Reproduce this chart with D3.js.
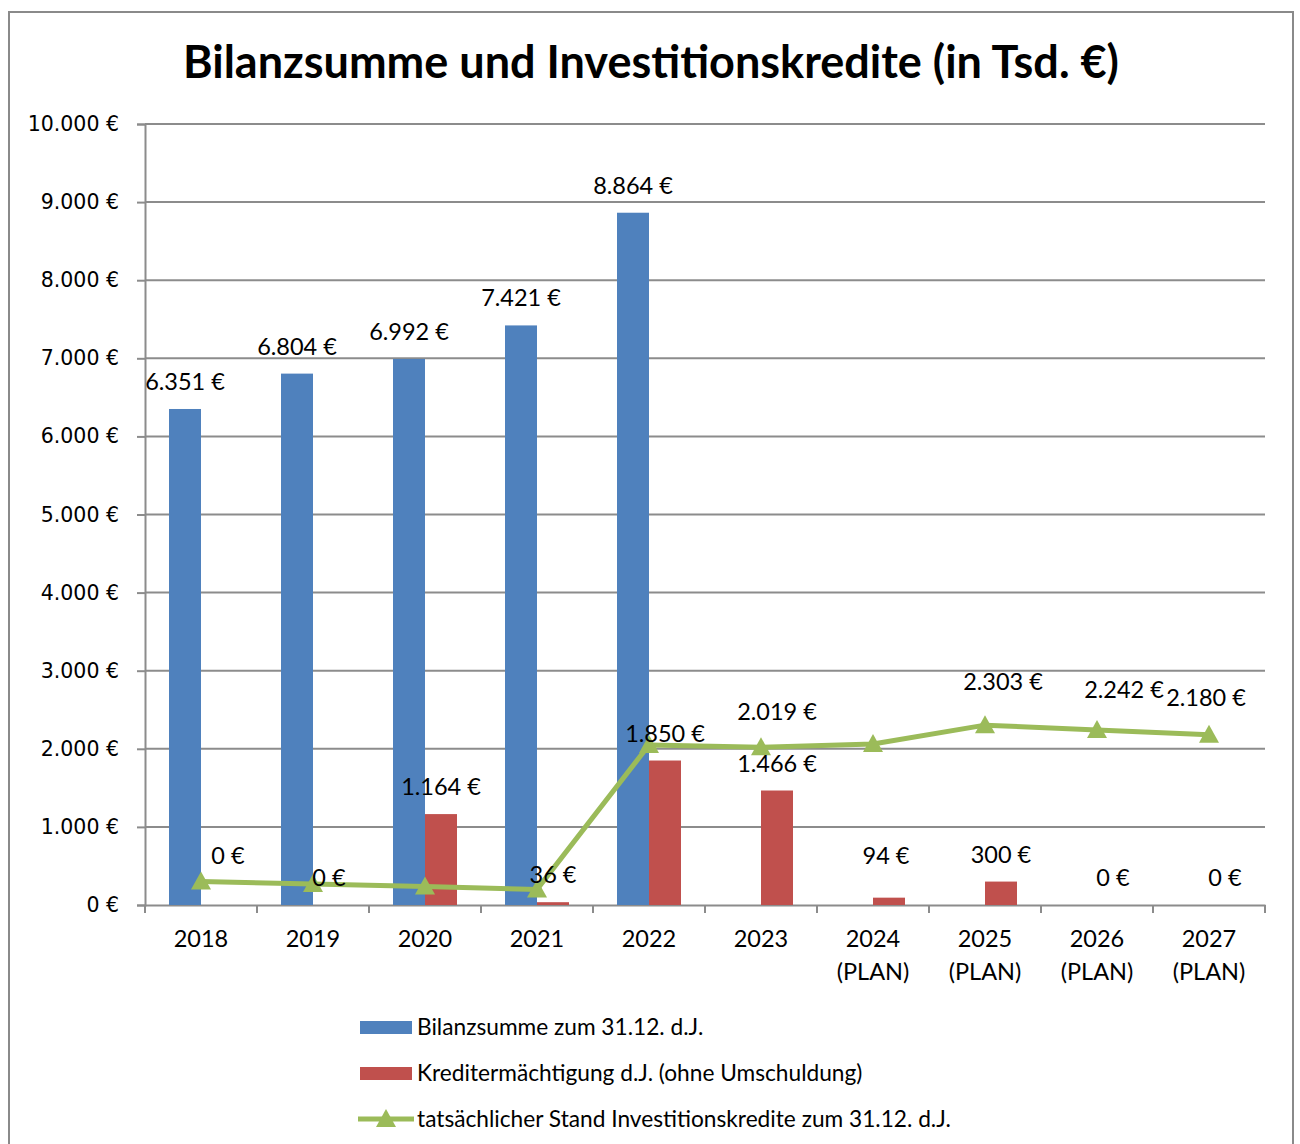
<!DOCTYPE html>
<html lang="de">
<head>
<meta charset="UTF-8">
<title>Bilanzsumme und Investitionskredite</title>
<style>
  body { margin: 0; background: #fff; font-family: Lato, "Noto Sans", sans-serif; }
  svg { display: block; }
</style>
</head>
<body>
<svg id="chart" width="1300" height="1144"></svg>
<script src="https://d3js.org/d3.v7.min.js"></script>
<script>
const years = ["2018", "2019", "2020", "2021", "2022", "2023", "2024 (PLAN)", "2025 (PLAN)", "2026 (PLAN)", "2027 (PLAN)"];
const bilanzsumme = [6351, 6804, 6992, 7421, 8864, null, null, null, null, null];
const kredit = [0, 0, 1164, 36, 1850, 1466, 94, 300, 0, 0];
const stand = [300, 268, 236, 200, 2049, 2019, 2061, 2303, 2242, 2180];
const standLabels = [null, null, null, null, null, 2019, null, 2303, 2242, 2180];
const yTicks = [0, 1000, 2000, 3000, 4000, 5000, 6000, 7000, 8000, 9000, 10000];
const legendItems = ["Bilanzsumme zum 31.12. d.J.", "Kreditermächtigung d.J. (ohne Umschuldung)", "tatsächlicher Stand Investitionskredite zum 31.12. d.J."];

const blue = "#4F81BD", red = "#C0504D", green = "#9BBB59", grid = "#8c8c8c";
const fmt = v => d3.format(",")(v).replace(/,/g, ".") + " €";

const svg = d3.select("#chart");
const margin = { top: 124, left: 145, right: 35, bottom: 239 };
const W = 1300, H = 1144;
const innerW = W - margin.left - margin.right;
const innerH = H - margin.top - margin.bottom;

// outer frame
svg.append("rect").attr("x", 9).attr("y", 12).attr("width", 1284).attr("height", 1150)
  .attr("fill", "none").attr("stroke", "#8a8a8a").attr("stroke-width", 2);

svg.append("text").attr("x", 651).attr("y", 78).attr("text-anchor", "middle")
  .attr("font-size", 45).attr("font-weight", "bold").text("Bilanzsumme und Investitionskredite (in Tsd. €)");

const g = svg.append("g").attr("transform", `translate(${margin.left},${margin.top})`);

const x = d3.scaleBand().domain(years).range([0, innerW]);
const y = d3.scaleLinear().domain([0, 10000]).range([innerH, 0]);
const barW = 32;

// gridlines
g.append("g").selectAll("line").data(yTicks.slice(1)).join("line")
  .attr("x1", 0).attr("x2", innerW).attr("y1", d => y(d)).attr("y2", d => y(d))
  .attr("stroke", grid).attr("stroke-width", 2);

// y axis
const yAxis = g.append("g").call(d3.axisLeft(y).tickValues(yTicks).tickSize(8).tickPadding(18).tickFormat(fmt));
yAxis.select(".domain").attr("stroke", grid).attr("stroke-width", 2);
yAxis.selectAll(".tick line").attr("stroke", grid).attr("stroke-width", 2);
yAxis.selectAll("text").attr("font-family", "DejaVu Sans, Verdana, sans-serif").attr("font-size", 20.5).attr("fill", "#000");

// x axis
const xAxis = g.append("g").attr("transform", `translate(0,${innerH})`)
  .call(d3.axisBottom(x).tickSize(0).tickFormat(""));
xAxis.select(".domain").attr("stroke", grid).attr("stroke-width", 2);
g.append("g").selectAll("line").data(d3.range(years.length + 1)).join("line")
  .attr("x1", i => i * x.step()).attr("x2", i => i * x.step())
  .attr("y1", innerH).attr("y2", innerH + 8).attr("stroke", grid).attr("stroke-width", 2);

const xl = g.append("g").selectAll("text").data(years).join("text")
  .attr("x", d => x(d) + x.bandwidth() / 2).attr("y", innerH + 42)
  .attr("text-anchor", "middle").attr("font-size", 23.5);
xl.each(function (d) {
  const parts = d.split(" ");
  d3.select(this).selectAll("tspan").data(parts).join("tspan")
    .attr("x", x(d) + x.bandwidth() / 2).attr("dy", (p, i) => i ? 33 : 0).text(p => p);
});

const cx = d => x(d) + x.bandwidth() / 2;

// blue bars
const blueData = years.map((d, i) => ({ year: d, v: bilanzsumme[i] })).filter(d => d.v !== null);
g.append("g").selectAll("rect").data(blueData).join("rect")
  .attr("x", d => cx(d.year) - barW).attr("width", barW)
  .attr("y", d => y(d.v)).attr("height", d => innerH - y(d.v)).attr("fill", blue);

// red bars
const redData = years.map((d, i) => ({ year: d, v: kredit[i], i }));
g.append("g").selectAll("rect").data(redData).join("rect")
  .attr("x", d => cx(d.year)).attr("width", barW)
  .attr("y", d => y(d.v)).attr("height", d => innerH - y(d.v)).attr("fill", red);

// line
const lineData = years.map((d, i) => ({ year: d, v: stand[i], label: standLabels[i] }));
g.append("path").datum(lineData)
  .attr("d", d3.line().x(d => cx(d.year)).y(d => y(d.v)))
  .attr("fill", "none").attr("stroke", green).attr("stroke-width", 5).attr("stroke-linejoin", "round");
const tri = "M0,-10L10,8L-10,8Z";
g.append("g").selectAll("path").data(lineData).join("path")
  .attr("d", tri).attr("transform", d => `translate(${cx(d.year)},${y(d.v)})`).attr("fill", green);

// labels
const lbl = g.append("g").attr("font-size", 23.5).attr("text-anchor", "middle");
lbl.selectAll(".lb").data(blueData).join("text").attr("class", "lb")
  .attr("x", d => cx(d.year) - barW / 2).attr("y", d => y(d.v) - 19).text(d => fmt(d.v));
// red label nudges (as placed in the original)
const redNudge = { 0: [11, -22], 6: [-3, -15] };
lbl.selectAll(".lr").data(redData).join("text").attr("class", "lr")
  .attr("x", d => cx(d.year) + barW / 2 + (redNudge[d.i] ? redNudge[d.i][0] : 0))
  .attr("y", d => y(d.v) - 19 + (redNudge[d.i] ? redNudge[d.i][1] : 0)).text(d => fmt(d.v));
const lineNudge = { 5: [16, 0], 7: [18, -8], 8: [27, -5], 9: [-3, -2] };
lbl.selectAll(".ll").data(lineData.map((d, i) => ({ ...d, i })).filter(d => d.label !== null)).join("text").attr("class", "ll")
  .attr("x", d => cx(d.year) + lineNudge[d.i][0]).attr("y", d => y(d.v) - 27 + lineNudge[d.i][1]).text(d => fmt(d.label));

// legend
const leg = svg.append("g").attr("font-size", 22.7);
legendItems.forEach((t, i) => {
  const ly = 1027 + i * 46;
  if (i < 2) {
    leg.append("rect").attr("x", 360).attr("y", ly - 6).attr("width", 52).attr("height", 13).attr("fill", i ? red : blue);
  } else {
    leg.append("line").attr("x1", 358).attr("x2", 414).attr("y1", ly).attr("y2", ly).attr("stroke", green).attr("stroke-width", 5);
    leg.append("path").attr("d", tri).attr("transform", `translate(386,${ly})`).attr("fill", green);
  }
  leg.append("text").attr("x", 417).attr("y", ly + 8).text(t);
});
</script>
</body>
</html>
